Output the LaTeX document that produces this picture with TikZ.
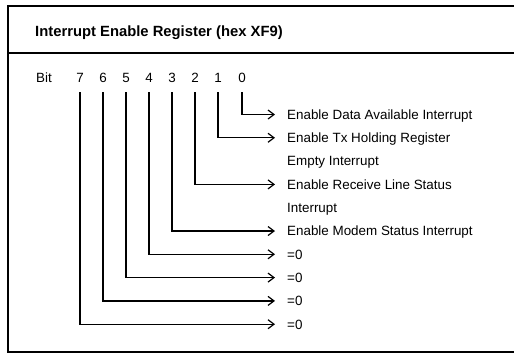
\documentclass[tikz,border=0pt]{standalone}
\usepackage{fontspec}
\setmainfont{Liberation Sans}
\usepackage{tikz}
\usetikzlibrary{arrows.meta}

\begin{document}
\begin{tikzpicture}[x=1pt, y=-1pt, line cap=butt,
  frame/.style={line width=1.5pt},
  sig/.style={line width=1.2pt, -{Straight Barb[length=6pt, width=9pt, line width=1.2pt]}, shorten <=6pt, shorten >=10pt},
  digit/.style={inner sep=3pt, text height=9.6pt, text depth=0pt, font=\fontsize{13.4}{16}\selectfont},
  label/.style={anchor=west, inner sep=2pt, text height=9.6pt, text depth=0pt, font=\fontsize{13.4}{16}\selectfont},]
\useasboundingbox (0,0) rectangle (514,354);
% frame
\draw[frame] (514,6)--(8,6)--(8,352)--(514,352);
\draw[frame] (8,53)--(514,53);
\node[anchor=west, inner sep=2pt, text height=10.6pt, text depth=0pt, font=\fontsize{14.8}{18}\selectfont\bfseries] (title) at (33, 31.3) {Interrupt Enable Register (hex XF9)};
% bit numbers
\node[label] (bit) at (34, 78) {Bit};
\node[digit] (b7) at (80, 78) {7};
\node[digit] (b6) at (103, 78) {6};
\node[digit] (b5) at (126, 78) {5};
\node[digit] (b4) at (149, 78) {4};
\node[digit] (b3) at (172, 78) {3};
\node[digit] (b2) at (195, 78) {2};
\node[digit] (b1) at (218, 78) {1};
\node[digit] (b0) at (242, 78) {0};
% meanings
\node[label] (t0) at (285, 114.5) {Enable Data Available Interrupt};
\node[label] (t1) at (285, 137.8) {Enable Tx Holding Register};
\node[label] (t1b) at (285, 161.1) {Empty Interrupt};
\node[label] (t2) at (285, 184.4) {Enable Receive Line Status};
\node[label] (t2b) at (285, 207.7) {Interrupt};
\node[label] (t3) at (285, 231) {Enable Modem Status Interrupt};
\node[label] (t4) at (285, 254.3) {=0};
\node[label] (t5) at (285, 277.6) {=0};
\node[label] (t6) at (285, 300.9) {=0};
\node[label] (t7) at (285, 324.2) {=0};
% connectors
\draw[sig] (b0) |- (t0);
\draw[sig] (b1) |- (t1);
\draw[sig] (b2) |- (t2);
\draw[sig] (b3) |- (t3);
\draw[sig] (b4) |- (t4);
\draw[sig] (b5) |- (t5);
\draw[sig] (b6) |- (t6);
\draw[sig] (b7) |- (t7);
\end{tikzpicture}
\end{document}
